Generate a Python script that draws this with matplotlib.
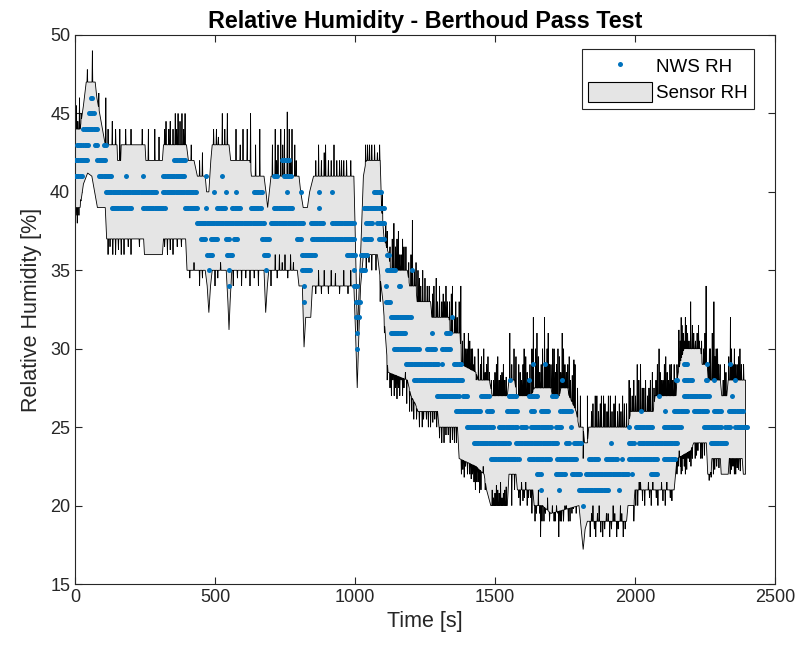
import numpy as np
import matplotlib
matplotlib.use("Agg")
import matplotlib.pyplot as plt
from matplotlib.lines import Line2D
from matplotlib.patches import Patch

# ---------------- NWS relative humidity readings ----------------
# runs of constant reported RH: (start time [s], end time [s], RH [%])
nws_runs = [
    (56, 62, 46),
    (50, 68, 45),
    (30, 80, 44),
    (6, 22, 43), (30, 48, 43), (72, 82, 43), (102, 112, 43),
    (0, 44, 42), (80, 110, 42), (354, 395, 42), (740, 764, 42),
    (0, 25, 41), (86, 130, 41), (181, 181, 41), (243, 243, 41), (315, 392, 41),
    (467, 467, 41), (526, 526, 41), (711, 723, 41), (746, 770, 41),
    (110, 290, 40), (315, 431, 40), (496, 496, 40), (538, 538, 40), (574, 574, 40),
    (639, 669, 40), (758, 758, 40), (806, 806, 40), (871, 871, 40), (919, 919, 40),
    (1068, 1092, 40),
    (131, 200, 39), (244, 320, 39), (393, 440, 39), (467, 467, 39), (508, 538, 39),
    (562, 592, 39), (627, 663, 39), (711, 776, 39), (871, 871, 39), (1032, 1104, 39),
    (434, 675, 38), (699, 818, 38), (842, 889, 38), (919, 996, 38), (1038, 1062, 38),
    (1080, 1104, 38),
    (449, 467, 37), (484, 508, 37), (538, 550, 37), (568, 580, 37), (669, 693, 37),
    (794, 806, 37), (847, 996, 37), (1032, 1056, 37), (1086, 1104, 37),
    (473, 490, 36), (544, 562, 36), (675, 693, 36), (812, 859, 36), (972, 1002, 36),
    (1020, 1044, 36), (1116, 1121, 36),
    (478, 478, 35), (550, 550, 35), (681, 681, 35), (812, 842, 35), (996, 996, 35),
    (1020, 1038, 35), (1116, 1145, 35), (1205, 1205, 35),
    (550, 550, 34), (818, 818, 34), (996, 1008, 34), (1110, 1110, 34), (1157, 1163, 34),
    (818, 818, 33), (1002, 1020, 33), (1110, 1127, 33),
    (1002, 1014, 32), (1127, 1199, 32), (1348, 1348, 32),
    (1008, 1008, 31), (1127, 1181, 31), (1276, 1276, 31), (1324, 1342, 31),
    (1008, 1008, 30), (1139, 1229, 30), (1258, 1288, 30), (1312, 1342, 30),
    (1181, 1300, 29), (1312, 1312, 29), (1354, 1378, 29), (1637, 1637, 29),
    (1677, 1677, 29), (2175, 2187, 29), (2258, 2258, 29), (2341, 2341, 29),
    (1211, 1384, 28), (1553, 1553, 28), (1621, 1621, 28), (1740, 1740, 28),
    (2145, 2151, 28), (2175, 2205, 28), (2252, 2258, 28), (2282, 2282, 28), (2359, 2359, 28),
    (1294, 1372, 27), (1384, 1401, 27), (1449, 1479, 27), (1550, 1574, 27),
    (1621, 1651, 27), (1705, 1717, 27), (2086, 2086, 27), (2175, 2264, 27), (2347, 2347, 27),
    (1360, 1449, 26), (1473, 1490, 26), (1544, 1580, 26), (1627, 1639, 26),
    (1663, 1693, 26), (1734, 1770, 26), (2020, 2020, 26), (2109, 2109, 26),
    (2139, 2187, 26), (2210, 2258, 26), (2282, 2306, 26), (2335, 2389, 26),
    (1401, 1496, 25), (1514, 1580, 25), (1592, 1615, 25), (1627, 1699, 25),
    (1717, 1740, 25), (1770, 1770, 25), (1979, 1979, 25), (2002, 2062, 25),
    (2103, 2163, 25), (2246, 2306, 25), (2323, 2341, 25), (2359, 2400, 25),
    (1425, 1550, 24), (1574, 1723, 24), (1752, 1764, 24), (1782, 1806, 24),
    (1913, 1913, 24), (1979, 1996, 24), (2014, 2151, 24), (2270, 2329, 24),
    (1485, 1580, 23), (1586, 1586, 23), (1621, 1699, 23), (1723, 1794, 23),
    (1836, 1871, 23), (1895, 1937, 23), (1955, 1955, 23), (1979, 2080, 23), (2103, 2146, 23),
    (1651, 1663, 22), (1717, 1752, 22), (1776, 1806, 22), (1824, 1979, 22),
    (1990, 1990, 22), (2056, 2080, 22),
    (1663, 1663, 21), (1728, 1728, 21), (1800, 1907, 21), (1943, 1943, 21),
    (1815, 1815, 20),
]

# ---------------- Sensor RH band ----------------
# upper edge of the sensor band (time [s], RH [%])
upper_t = [0, 18, 30, 40, 72, 78, 88, 98, 108, 150, 152, 163, 165, 250, 253, 312, 316,
           398, 405, 425, 437, 465, 470, 478, 485, 490, 550, 556, 625, 630, 675, 682, 688,
           694, 700, 800, 806, 815, 830, 838, 852, 996, 1000, 1006, 1009, 1013, 1020, 1030,
           1040, 1090, 1095, 1104, 1121, 1127, 1187, 1195, 1217, 1222, 1270, 1275, 1336,
           1340, 1375, 1380, 1432, 1440, 1480, 1490, 1544, 1550, 1570, 1578, 1630, 1640,
           1700, 1705, 1730, 1735, 1760, 1765, 1790, 1800, 1815, 1820, 1830, 1835, 1975,
           1985, 2065, 2072, 2146, 2150, 2160, 2175, 2235, 2240, 2258, 2262, 2305, 2310,
           2328, 2333, 2395]
upper_v = [44, 44, 45.5, 47, 47, 46, 45, 44, 43, 43, 42, 42, 43, 43, 42, 42, 43,
           43, 42, 42, 41, 41, 40, 40, 42, 43, 43, 42, 42, 41, 41, 40, 39,
           40, 41, 41, 40, 39, 39, 40, 41, 41, 38, 33, 31, 33, 36, 41,
           42, 42, 39, 37, 36, 35, 35, 34, 34, 33, 33, 32, 32,
           31, 31, 29, 28.5, 28, 28, 27, 27, 28, 28, 27, 27, 27.5,
           27.5, 27, 27, 27.5, 27.5, 27, 26, 25, 25, 24, 24, 25, 25,
           26, 26, 27, 27, 28, 29, 30, 30, 29, 29, 28, 28, 27,
           27, 28, 28]

# lower edge of the sensor band (time [s], RH [%])
lower_t = [0, 18, 30, 45, 60, 70, 80, 108, 113, 245, 248, 312, 316, 395, 400, 465, 472,
           478, 484, 490, 540, 546, 550, 554, 560, 675, 681, 687, 692, 794, 800, 812,
           818, 824, 842, 848, 996, 1002, 1008, 1014, 1020, 1030, 1080, 1100, 1112, 1118,
           1187, 1200, 1215, 1225, 1295, 1300, 1366, 1372, 1432, 1461, 1470, 1485, 1544,
           1550, 1575, 1580, 1635, 1640, 1670, 1700, 1800, 1808, 1815, 1822, 1830, 1970,
           1975, 1996, 2000, 2140, 2150, 2199, 2210, 2255, 2260, 2270, 2275, 2305, 2308,
           2333, 2337, 2383, 2387, 2395]
lower_v = [39, 39, 40.5, 41.2, 41, 40, 39, 39, 37, 37, 36, 36, 37, 37, 35, 35, 34,
           32.3, 34, 35, 35, 33, 31.2, 33, 35, 35, 32.3, 34, 35, 35, 34, 34,
           30.1, 32, 32, 34, 34, 31, 27.5, 31, 34, 36, 36, 33, 30, 28.5,
           28, 27, 26.5, 26, 26, 25, 25, 23, 22.5, 22, 21, 20, 20,
           22, 22, 21, 21, 20, 20, 19.5, 20, 18.5, 17.2, 18.5, 19, 19,
           20, 20, 21, 21, 23, 23.5, 24, 24, 22, 22, 23, 23, 22,
           22, 23, 23, 22, 22]

# short excursions of the sensor reading along the upper edge
up_spike_t = [5, 10, 16, 22, 44, 62, 85, 110, 118, 133, 145, 160, 181, 200, 240, 262, 285,
              300, 320, 325, 335, 340, 350, 358, 363, 368, 375, 382, 388, 393, 415, 445,
              455, 495, 505, 512, 526, 535, 544, 575, 590, 600, 615, 627, 645, 660, 705,
              715, 725, 735, 748, 758, 765, 775, 785, 790, 860, 870, 880, 895, 905, 915,
              925, 935, 945, 960, 970, 985, 1038, 1045, 1052, 1060, 1070, 1080, 1088, 1098,
              1110, 1139, 1150, 1160, 1175, 1205, 1212, 1225, 1235, 1250, 1258, 1282, 1295,
              1310, 1320, 1330, 1348, 1356, 1365, 1378, 1390, 1400, 1410, 1420, 1428, 1440,
              1448, 1460, 1470, 1480, 1495, 1505, 1515, 1525, 1535, 1553, 1560, 1568, 1585,
              1595, 1604, 1615, 1625, 1637, 1645, 1655, 1665, 1677, 1686, 1695, 1711, 1720,
              1730, 1740, 1750, 1760, 1770, 1782, 1786, 1795, 1805, 1815, 1830, 1845, 1858,
              1870, 1880, 1893, 1905, 1918, 1925, 1938, 1950, 1962, 1979, 1990, 2008, 2020,
              2032, 2045, 2055, 2068, 2086, 2095, 2105, 2115, 2125, 2135, 2145, 2157, 2165,
              2172, 2180, 2188, 2199, 2210, 2222, 2230, 2245, 2254, 2262, 2270, 2282, 2290,
              2298, 2315, 2325, 2341, 2350, 2360, 2370, 2380,
              1115, 1125, 1133, 1145, 1155, 1165, 1170, 1182, 1192, 1200, 1218, 1230, 1242,
              1265, 1277, 1290, 1302, 1315, 1325, 1338, 1344, 1360, 1372, 1384, 1395, 1405,
              1415, 1425,
              1433, 1452, 1465, 1475, 1487, 1500, 1510, 1520, 1530, 1540, 1575, 1590, 1600,
              1610, 1620, 1632, 1650, 1660, 1670, 1682, 1690, 1700, 1706, 1716, 1725, 1735,
              1745, 1755, 1765, 1776,
              1850, 1864, 1876, 1888, 1900, 1912, 1930, 1944, 1956, 1970, 1984, 1996, 2002,
              2014, 2026, 2038, 2050, 2062, 2075, 2080, 2090, 2100, 2110, 2120, 2130, 2140,
              2150, 2162, 2168, 2176, 2184, 2193, 2205, 2216, 2227, 2238, 2250, 2266, 2276,
              2286, 2295, 2304, 2320, 2335, 2345, 2355, 2365, 2375, 2388,
              720, 742, 770, 890, 952]
up_spike_v = [45.5, 44.5, 46, 45, 47.8, 49, 46.3, 46, 44, 44.5, 44, 44, 44, 44, 44, 44, 44,
              43.5, 44, 44.5, 44, 44.5, 44, 45, 44, 45, 44.5, 45, 44, 45, 43, 42,
              42.5, 44, 44, 43.5, 45, 44, 45, 44, 43, 44, 44, 45, 43, 44, 43,
              44, 43, 44, 44, 45.1, 44, 44, 43, 42, 42, 43, 42, 43, 42, 42,
              43, 42, 42, 42, 42, 42, 43, 43, 43, 43, 43, 42.5, 43, 40,
              38, 38, 37, 36, 36.5, 38.2, 35, 35, 34, 34.5, 34, 34, 33,
              33, 33, 33, 34, 32, 32, 34, 31, 30, 30.5, 30, 29.5, 30,
              29, 30, 29, 28.5, 28, 29, 28, 28.5, 28, 31, 29, 30, 29,
              28, 30, 28.5, 29, 32, 30, 29.5, 29, 32, 30, 29, 30, 29,
              29.5, 31, 29, 29, 28, 29.3, 29, 27.5, 27, 23, 27, 26, 27,
              26, 27, 26.5, 27, 26, 26.5, 26, 26, 26.5, 28, 27, 29, 29,
              27.5, 27, 28, 27.5, 30, 28, 29, 28.5, 29, 28, 28, 31.2, 32,
              31, 32, 31, 33, 31, 31, 30.5, 30, 34, 29, 30, 33, 30,
              29, 28, 28.5, 32, 29, 29, 29.5, 29,
              37.5, 36.5, 37, 36.5, 37.5, 36, 37, 36.5, 35.5, 36, 35.5, 34.5, 35,
              34, 33.5, 34.5, 34, 33.5, 34, 33, 33.5, 33, 33, 30.5, 30, 31,
              30, 29,
              28, 29.5, 28.5, 29.5, 28, 28.5, 29.5, 28.3, 29, 28.2, 29.5, 28.5, 29,
              29.5, 28, 30, 31, 28.5, 30, 29, 31, 29, 30, 28.5, 30, 28.5,
              30, 28.5, 29.5, 28.3,
              26.5, 27, 26.5, 27, 26, 27, 27, 26.5, 27, 26.5, 27.5, 28, 27,
              28, 27.5, 28, 27.5, 28.5, 28, 29, 28.5, 28, 29.5, 28, 29, 29,
              29, 30.5, 31.5, 30.5, 31.5, 30.5, 31.5, 30.5, 31.5, 30.5, 31, 30, 31,
              29.5, 30, 29, 29, 29.5, 30, 30, 29, 30, 29,
              42, 43, 42, 42.5, 42]

# short excursions of the sensor reading along the lower edge
lo_spike_t = [3, 8, 14, 20, 118, 125, 135, 145, 155, 165, 175, 190, 200, 230, 320, 330, 340,
              350, 358, 365, 372, 380, 388, 410, 425, 445, 455, 500, 510, 520, 565, 580,
              595, 610, 625, 640, 655, 700, 715, 722, 730, 740, 750, 760, 770, 780, 860,
              870, 880, 890, 905, 915, 930, 945, 960, 975, 985, 1040, 1050, 1060, 1075,
              1090, 1125, 1140, 1155, 1170, 1180, 1195, 1210, 1240, 1255, 1270, 1285, 1310,
              1325, 1340, 1355, 1380, 1395, 1410, 1420, 1430, 1440, 1450, 1458, 1495, 1510,
              1525, 1535, 1560, 1570, 1590, 1605, 1615, 1628, 1648, 1655, 1663, 1675, 1688,
              1711, 1720, 1728, 1738, 1750, 1762, 1775, 1790, 1840, 1850, 1860, 1872, 1885,
              1898, 1910, 1922, 1935, 1948, 1958, 1996, 2010, 2020, 2035, 2048, 2058, 2070,
              2082, 2095, 2108, 2120, 2132, 2150, 2158, 2165, 2172, 2180, 2190, 2200, 2215,
              2225, 2240, 2265, 2280, 2292, 2340, 2350, 2360, 2370,
              1105, 1115, 1130, 1135, 1145, 1150, 1160, 1165, 1175, 1185, 1203, 1220, 1230,
              1245, 1262, 1278, 1292, 1302, 1318, 1333, 1348, 1362, 1385, 1390, 1402, 1415,
              1425,
              1435, 1445, 1465, 1490, 1500, 1505, 1515, 1520, 1530, 1540, 1585, 1595, 1600,
              1610, 1620, 1632, 1643, 1660, 1668, 1680, 1695, 1705, 1715, 1725, 1733, 1745,
              1755, 1768, 1780,
              1845, 1855, 1866, 1878, 1892, 1904, 1916, 1928, 1940, 1953, 1965, 2003, 2015,
              2027, 2040, 2052, 2064, 2076, 2088, 2100, 2114, 2126, 2137,
              2145, 2154, 2162, 2168, 2176, 2185, 2195, 2205, 2220, 2235, 2248, 2272, 2285,
              2300, 2345, 2355, 2365, 2376]
lo_spike_v = [38.5, 38, 38.5, 39.5, 36, 36.5, 36, 36, 36.3, 36, 36, 36.5, 36, 36.5, 36.5, 36, 36.3,
              36, 37, 36.5, 37, 36.5, 37, 34.5, 35.5, 34, 34.5, 34, 34.5, 35.5, 34, 34.5,
              34, 34.5, 34, 34.5, 34, 34, 36, 34.5, 36, 35.5, 36, 34.5, 36, 35.5, 33.5,
              35, 33.5, 35, 33.5, 35, 34.8, 33.5, 35, 33.5, 35, 35, 35.5, 35, 35,
              33, 27.5, 27, 27.5, 27, 28.5, 26, 25.5, 25, 25.5, 25, 25.5, 24,
              24.5, 24, 24, 22, 22.5, 22, 22, 21, 21.5, 21, 22.5, 20.5, 21,
              20.5, 21, 20, 21, 20, 20.5, 20, 20.5, 19.5, 21, 18, 19, 20.5,
              19, 20, 18, 19, 20, 19, 19.5, 19.5, 18, 20, 18, 20, 18,
              19.5, 18, 20, 18, 20, 18, 19, 20, 21.5, 20, 21.5, 20, 21,
              20, 21.5, 20, 21, 20.3, 22, 23.5, 22, 23, 22, 23, 22.5, 23,
              23.5, 23, 21.6, 22, 22.5, 22, 22.5, 22, 22.3,
              31, 28, 27, 28, 27.5, 26.8, 27, 28, 27.5, 26.5, 26, 25.5, 25,
              25.5, 25, 25.3, 25, 24.3, 24, 24.5, 24.2, 24, 22.3, 21.8, 22, 21.7,
              21.5,
              21.5, 20.8, 21, 21, 20.8, 21.3, 20.8, 21.5, 20.8, 21.2, 20.5, 21.5, 20.3,
              21.5, 20.5, 19.5, 19, 19.5, 19, 19.5, 19, 20, 19, 19.5, 19, 19,
              20, 19, 19.8,
              19.5, 18.5, 19.5, 18.3, 18.5, 19.5, 18.5, 19.5, 18.5, 19.5, 18.5, 20, 21.5,
              20.3, 21, 20.5, 21.5, 20.5, 21, 20.3, 21.5, 20.5, 21,
              22, 22.5, 22.5, 22.2, 22.5, 22.3, 22.8, 23, 23.2, 23, 23.2, 21.8, 22.3,
              22.4, 22.3, 22, 22.4, 22.2]


def edge_path(knot_t, knot_v, spike_t, spike_v, half_width=1.3):
    """Merge a piecewise-linear edge with narrow spikes into one outline."""
    knot_t = np.asarray(knot_t, float)
    knot_v = np.asarray(knot_v, float)
    pts = list(zip(knot_t, knot_v))
    for ts, vs in zip(spike_t, spike_v):
        for tt in (ts - half_width, ts + half_width):
            tt = min(max(tt, knot_t[0]), knot_t[-1])
            pts.append((tt, float(np.interp(tt, knot_t, knot_v))))
        pts.append((float(ts), float(vs)))
    pts.sort(key=lambda p: p[0])
    arr = np.array(pts)
    return arr[:, 0], arr[:, 1]


ut, uv = edge_path(upper_t, upper_v, up_spike_t, up_spike_v)
lt, lv = edge_path(lower_t, lower_v, lo_spike_t, lo_spike_v)
band_t = np.concatenate([ut, lt[::-1]])
band_v = np.concatenate([uv, lv[::-1]])

nws_t, nws_v = [], []
for t0, t1, v in nws_runs:
    ts = np.arange(t0, t1 + 0.5, 4.0)
    nws_t.extend(ts)
    nws_v.extend([v] * len(ts))

# ---------------- figure ----------------
plt.rcParams['font.family'] = ['Liberation Sans', 'DejaVu Sans']
fig = plt.figure(figsize=(7.99, 6.54), dpi=100)
ax = fig.add_axes([0.0939, 0.107, 0.876, 0.8395])

blue = '#0072BD'
band_face = '#E5E5E5'
ax.fill(band_t, band_v, facecolor=band_face, edgecolor='black', linewidth=0.6, zorder=2)
ax.plot(nws_t, nws_v, linestyle='none', marker='o', markersize=3.6,
        markeredgewidth=0, color=blue, zorder=3)

ax.set_xlim(0, 2500)
ax.set_ylim(15, 50)
ax.set_xticks(np.arange(0, 2501, 500))
ax.set_yticks(np.arange(15, 51, 5))
axis_col = '#262626'
for s in ax.spines.values():
    s.set_color(axis_col)
    s.set_linewidth(0.8)
ax.tick_params(direction='in', top=True, right=True, length=5, width=0.8,
               colors=axis_col, labelsize=13, labelcolor=axis_col)

ax.set_title('Relative Humidity - Berthoud Pass Test', fontsize=16.8, fontweight='bold',
             color='black', pad=5)
ax.set_xlabel('Time [s]', fontsize=15.5, color=axis_col, labelpad=4)
ax.set_ylabel('Relative Humidity [%]', fontsize=15.5, color=axis_col, labelpad=6)

handles = [
    Line2D([], [], linestyle='none', marker='o', markersize=3.6, markeredgewidth=0, color=blue),
    Patch(facecolor=band_face, edgecolor='black', linewidth=0.8),
]
leg = ax.legend(handles, ['NWS RH', 'Sensor RH'], loc='upper right',
                bbox_to_anchor=(0.978, 0.985), fontsize=13.5, frameon=True, fancybox=False,
                framealpha=1, edgecolor=axis_col, handlelength=3.4, handleheight=1.3,
                handletextpad=0.2, borderpad=0.35, labelspacing=0.3, borderaxespad=0.3)
leg.get_frame().set_linewidth(0.8)

fig.savefig('out.png', dpi=100)
